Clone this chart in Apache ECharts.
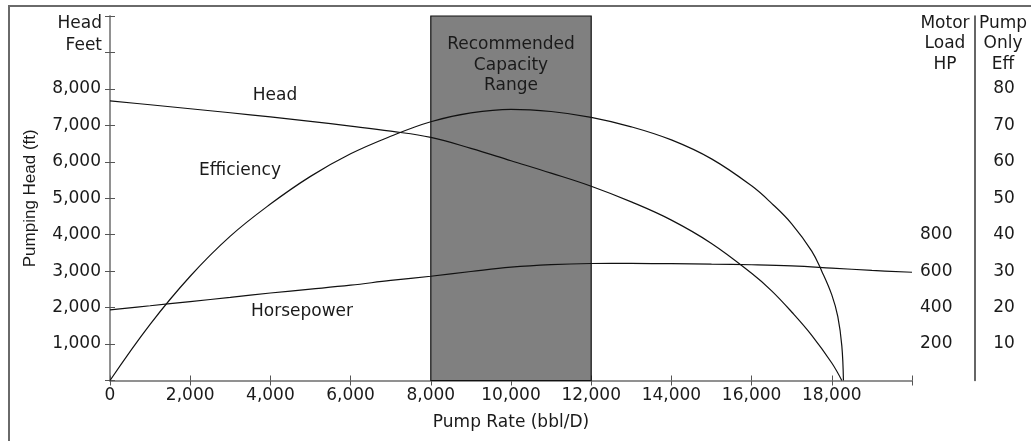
<!DOCTYPE html>
<html>
<head>
<meta charset="utf-8">
<script src="https://cdn.jsdelivr.net/npm/echarts@6/dist/echarts.min.js"></script>
<style>html,body{margin:0;padding:0;background:#fff}#c{width:1031px;height:441px}</style>
</head>
<body>
<div id="c"></div>
<script>
// Pump rate (bbl/D) and head (ft)
const rateHead = [0, 1000, 2000, 3000, 4000, 5000, 6000, 7000, 8000, 9000, 10000, 11000, 12000, 13000, 14000, 15000, 16000, 16500, 17000, 17500, 18000, 18250];
const headFt   = [7670, 7565, 7455, 7345, 7230, 7110, 6980, 6840, 6670, 6370, 6030, 5690, 5330, 4900, 4400, 3760, 2940, 2460, 1880, 1240, 480, 0];
// Pump rate (bbl/D) and pump-only efficiency (%)
const rateEff = [0, 1000, 2000, 3000, 4000, 5000, 6000, 7000, 8000, 9000, 10000, 11000, 12000, 13000, 14000, 15000, 16000, 16500, 17000, 17500, 17750, 18000, 18150, 18250, 18290];
const effPct  = [0, 15.4, 28.6, 39.6, 48.4, 56.0, 62.2, 67.0, 71.0, 73.4, 74.4, 73.8, 72.2, 69.6, 66.0, 60.8, 53.4, 48.6, 43.0, 35.5, 30.0, 23.5, 17.5, 9.5, 0];
// Pump rate (bbl/D) and motor load (HP)
const rateHp = [0, 1000, 2000, 3000, 4000, 5000, 6000, 7000, 8000, 9000, 10000, 11000, 12000, 13000, 14000, 15000, 16000, 17000, 18000, 19000, 20000];
const hpLoad = [388, 410, 433, 456, 480, 501, 523, 549, 572, 598, 622, 636, 642, 643, 641, 638, 635, 629, 617, 604, 594];
// Recommended range
const rangeStart = 8000, rangeEnd = 12000;

const zip = (xs, ys) => xs.map((x, i) => [x, ys[i]]);
const fmt = v => v.toLocaleString('en-US');
const FONT = '"DejaVu Sans", sans-serif';
const VFONT = '"Liberation Sans", Arial, sans-serif';
const FS = 17;
const TXT = '#1a1a1a';
const AX = '#8a8a8a';

const chart = echarts.init(document.getElementById('c'), null, {renderer: 'canvas'});
chart.setOption({
  animation: false,
  backgroundColor: '#fff',
  textStyle: {fontFamily: FONT},
  grid: {left: 110, right: 119, top: 16, bottom: 60.5, containLabel: false},
  xAxis: [{
    type: 'value', min: 0, max: 20000, interval: 2000, position: 'bottom',
    name: 'Pump Rate (bbl/D)', nameLocation: 'middle', nameGap: 34,
    nameTextStyle: {fontSize: FS, color: TXT, fontFamily: FONT},
    axisLine: {show: true, lineStyle: {color: AX, width: 1.5}},
    axisTick: {show: true, inside: true, length: 5, lineStyle: {color: '#555'}},
    axisLabel: {fontSize: FS, color: TXT, margin: 7, fontFamily: FONT,
      formatter: v => v >= 20000 ? '' : fmt(v)},
    splitLine: {show: false}
  }, {
    type: 'value', min: 0, max: 20000, interval: 2000, position: 'top',
    axisLine: {show: true, lineStyle: {color: AX, width: 1.5}},
    axisTick: {show: true, inside: true, length: 5, lineStyle: {color: '#555'}},
    axisLabel: {show: false}, splitLine: {show: false}
  }],
  yAxis: [{
    type: 'value', min: 0, max: 10000, interval: 1000, position: 'left',
    name: 'Pumping Head (ft)', nameLocation: 'middle', nameGap: 71, nameRotate: 90,
    nameTextStyle: {fontSize: FS, color: TXT, fontFamily: VFONT},
    axisLine: {show: true, lineStyle: {color: AX, width: 1.5}},
    axisTick: {show: true, inside: true, length: 5, lineStyle: {color: '#555'}},
    axisLabel: {fontSize: FS, color: TXT, margin: 9, fontFamily: FONT,
      formatter: v => (v === 0 || v >= 9000) ? '' : fmt(v)},
    splitLine: {show: false}
  }, {
    type: 'value', min: 0, max: 2000, interval: 200, position: 'right',
    axisLine: {show: true, lineStyle: {color: AX, width: 1.5}},
    axisTick: {show: true, inside: true, length: 5, lineStyle: {color: '#555'}},
    axisLabel: {fontSize: FS, color: TXT, margin: 8, fontFamily: FONT,
      formatter: v => (v >= 200 && v <= 800) ? String(v) : ''},
    splitLine: {show: false}
  }, {
    type: 'value', min: 0, max: 100, interval: 10, position: 'right', offset: 63,
    axisLine: {show: true, lineStyle: {color: '#333', width: 1.5}},
    axisTick: {show: false},
    axisLabel: {fontSize: FS, color: TXT, margin: 29, align: 'center', fontFamily: FONT,
      formatter: v => (v >= 10 && v <= 80) ? String(v) : ''},
    splitLine: {show: false}
  }],
  series: [{
    name: 'Head', type: 'line', xAxisIndex: 0, yAxisIndex: 0,
    data: zip(rateHead, headFt), smooth: 0.4, showSymbol: false,
    lineStyle: {color: '#111', width: 1.2}, z: 5,
    markArea: {
      silent: true,
      itemStyle: {color: '#808080', borderColor: '#111', borderWidth: 1.2},
      label: {show: true, position: 'insideTop', distance: 19,
        formatter: 'Recommended\nCapacity\nRange',
        fontSize: FS, lineHeight: 20.5, color: '#1a1a1a', fontFamily: FONT},
      data: [[{xAxis: rangeStart}, {xAxis: rangeEnd}]]
    }
  }, {
    name: 'Efficiency', type: 'line', xAxisIndex: 0, yAxisIndex: 2,
    data: zip(rateEff, effPct), smooth: 0.4, showSymbol: false,
    lineStyle: {color: '#111', width: 1.2}, z: 5
  }, {
    name: 'Horsepower', type: 'line', xAxisIndex: 0, yAxisIndex: 1,
    data: zip(rateHp, hpLoad), smooth: 0.4, showSymbol: false,
    lineStyle: {color: '#111', width: 1.2}, z: 5
  }],
  graphic: [
    {type: 'rect', silent: true, z: -10, shape: {x: 9, y: 6, width: 1100, height: 500},
      style: {fill: null, stroke: '#6a6a6a', lineWidth: 2}},
    {type: 'text', x: 102, y: 13, style: {text: 'Head\nFeet', align: 'right', fontSize: FS, lineHeight: 21.5, fill: TXT, fontFamily: FONT}},
    {type: 'text', x: 945, y: 13, style: {text: 'Motor\nLoad\nHP', align: 'center', fontSize: FS, lineHeight: 20.5, fill: TXT, fontFamily: FONT}},
    {type: 'text', x: 1003, y: 13, style: {text: 'Pump\nOnly\nEff', align: 'center', fontSize: FS, lineHeight: 20.5, fill: TXT, fontFamily: FONT}},
    {type: 'text', x: 275, y: 96, style: {text: 'Head', align: 'center', verticalAlign: 'middle', fontSize: FS, fill: TXT, fontFamily: FONT}},
    {type: 'text', x: 240, y: 171, style: {text: 'Efficiency', align: 'center', verticalAlign: 'middle', fontSize: FS, fill: TXT, fontFamily: FONT}},
    {type: 'text', x: 302, y: 312, style: {text: 'Horsepower', align: 'center', verticalAlign: 'middle', fontSize: FS, fill: TXT, fontFamily: FONT}}
  ]
});
</script>
</body>
</html>
